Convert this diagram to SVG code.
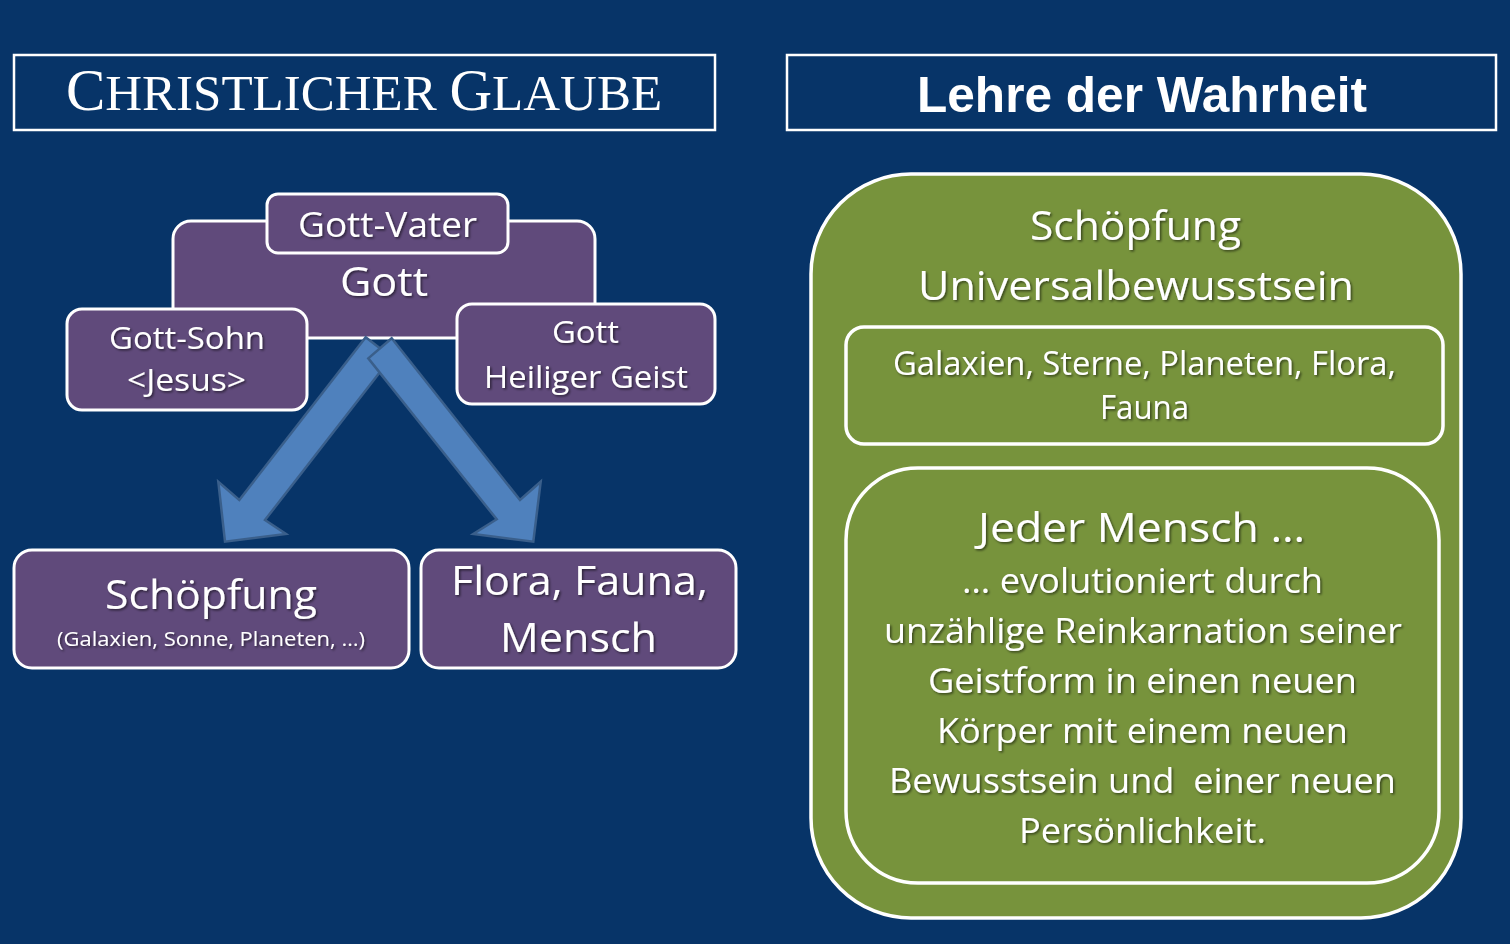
<svg xmlns="http://www.w3.org/2000/svg" width="1510" height="944" viewBox="0 0 1510 944">
<defs>
<filter id="ts" x="-10%" y="-30%" width="120%" height="160%">
<feDropShadow dx="1.5" dy="1.5" stdDeviation="1.2" flood-color="#000" flood-opacity="0.55"/>
</filter>
<style>
.t{font-family:"Open Sans","Noto Sans","Liberation Sans",sans-serif;fill:#fff;text-anchor:middle;filter:url(#ts)}
.p{fill:#604a7b;stroke:#fff;stroke-width:3}
.g{fill:#77933c;stroke:#fff;stroke-width:3.5}
.hdr{fill:none;stroke:#fff;stroke-width:2.5}
.arr{fill:#4f81bd;stroke:#3a5f8b;stroke-width:2.5;stroke-linejoin:miter}
</style>
</defs>
<rect x="0" y="0" width="1510" height="944" fill="#073468"/>

<g id="title-left">
<rect class="hdr" x="14" y="55" width="701" height="75"/>
<text x="364" y="110" font-family="'Liberation Serif',serif" fill="#fff" text-anchor="middle"><tspan font-size="59">C</tspan><tspan font-size="51">HRISTLICHER </tspan><tspan font-size="59">G</tspan><tspan font-size="51">LAUBE</tspan></text>
</g>

<g id="title-right">
<rect class="hdr" x="787" y="55" width="709" height="75"/>
<text x="1142" y="112" font-family="'Liberation Sans',Arial,sans-serif" font-weight="bold" font-size="50" fill="#fff" text-anchor="middle" textLength="450" lengthAdjust="spacingAndGlyphs">Lehre der Wahrheit</text>
</g>

<g id="gott">
<rect class="p" x="173" y="221" width="422" height="117" rx="18"/>
<text class="t" x="384" y="296" font-size="41" textLength="88" lengthAdjust="spacingAndGlyphs">Gott</text>
</g>

<g id="gott-vater">
<rect class="p" x="267" y="194" width="241" height="59" rx="11"/>
<text class="t" x="387.5" y="237" font-size="34" textLength="179" lengthAdjust="spacingAndGlyphs">Gott-Vater</text>
</g>

<g id="gott-sohn">
<rect class="p" x="67" y="309" width="240" height="101" rx="15"/>
<text class="t" x="187" y="349" font-size="31" textLength="156" lengthAdjust="spacingAndGlyphs">Gott-Sohn</text>
<text class="t" x="186.5" y="391" font-size="31" textLength="119" lengthAdjust="spacingAndGlyphs">&lt;Jesus&gt;</text>
</g>

<g id="heiliger-geist">
<rect class="p" x="457" y="304" width="258" height="100" rx="15"/>
<text class="t" x="585.5" y="343" font-size="31" textLength="67" lengthAdjust="spacingAndGlyphs">Gott</text>
<text class="t" x="586" y="388" font-size="31" textLength="204" lengthAdjust="spacingAndGlyphs">Heiliger Geist</text>
</g>

<g id="connectors">
<polygon class="arr" points="365.7,337.3 391.5,357.3 265,520 286,534 225,541.7 218.3,481.7 239.3,500"/>
<polygon class="arr" points="391.7,338.3 368.3,358.3 496.7,519.3 473.3,534 533.3,541.7 540.7,481.7 520,500"/>
</g>

<g id="schoepfung-left">
<rect class="p" x="14" y="550" width="395" height="118" rx="18"/>
<text class="t" x="211" y="609" font-size="41" textLength="212" lengthAdjust="spacingAndGlyphs">Schöpfung</text>
<text class="t" x="211" y="646" font-size="20" textLength="308" lengthAdjust="spacingAndGlyphs">(Galaxien, Sonne, Planeten, …)</text>
</g>

<g id="flora-fauna-mensch">
<rect class="p" x="421" y="550" width="315" height="118" rx="18"/>
<text class="t" x="579.5" y="595" font-size="41" textLength="257" lengthAdjust="spacingAndGlyphs">Flora, Fauna,</text>
<text class="t" x="578.5" y="652" font-size="41" textLength="157" lengthAdjust="spacingAndGlyphs">Mensch</text>
</g>

<g id="lehre-panel">
<rect class="g" x="811" y="174" width="650" height="744" rx="100"/>
<text class="t" x="1135.5" y="240" font-size="41" textLength="211" lengthAdjust="spacingAndGlyphs">Schöpfung</text>
<text class="t" x="1136" y="300" font-size="41" textLength="436" lengthAdjust="spacingAndGlyphs">Universalbewusstsein</text>
</g>

<g id="galaxien">
<rect class="g" x="846" y="327" width="597" height="117" rx="18"/>
<text class="t" x="1144.5" y="375" font-size="32" textLength="503" lengthAdjust="spacingAndGlyphs">Galaxien, Sterne, Planeten, Flora,</text>
<text class="t" x="1144.5" y="419" font-size="32" textLength="89" lengthAdjust="spacingAndGlyphs">Fauna</text>
</g>

<g id="jeder-mensch">
<rect class="g" x="846" y="468" width="593" height="415" rx="72"/>
<text class="t" x="1141.5" y="542" font-size="41" textLength="327" lengthAdjust="spacingAndGlyphs">Jeder Mensch …</text>
<text class="t" x="1142.5" y="593" font-size="35" textLength="361" lengthAdjust="spacingAndGlyphs">… evolutioniert durch</text>
<text class="t" x="1143" y="643" font-size="35" textLength="518" lengthAdjust="spacingAndGlyphs">unzählige Reinkarnation seiner</text>
<text class="t" x="1142.5" y="693" font-size="35" textLength="429" lengthAdjust="spacingAndGlyphs">Geistform in einen neuen</text>
<text class="t" x="1142.5" y="743" font-size="35" textLength="411" lengthAdjust="spacingAndGlyphs">Körper mit einem neuen</text>
<text class="t" x="1142.5" y="793" font-size="35" textLength="507" lengthAdjust="spacingAndGlyphs" xml:space="preserve">Bewusstsein und  einer neuen</text>
<text class="t" x="1142.5" y="843" font-size="35" textLength="247" lengthAdjust="spacingAndGlyphs">Persönlichkeit.</text>
</g>
</svg>
